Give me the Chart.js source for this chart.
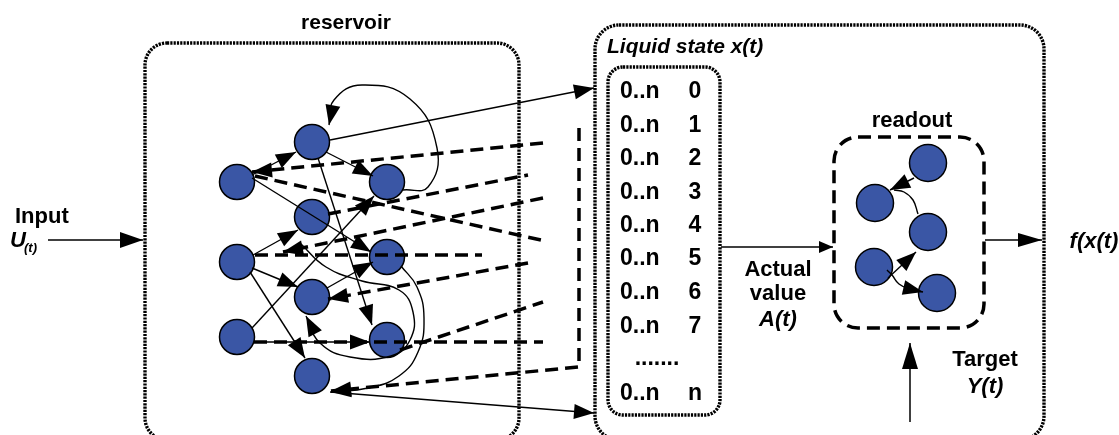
<!DOCTYPE html>
<html>
<head>
<meta charset="utf-8">
<script src="https://cdn.jsdelivr.net/npm/chart.js@4.4.1/dist/chart.umd.min.js"></script>
<style>
  html, body { margin: 0; padding: 0; background: #fff; }
  #wrap { width: 1119px; height: 435px; position: relative; }
</style>
</head>
<body>
<div id="wrap"><canvas id="lsm"></canvas></div>
<script>
// reservoir neurons A..J (figure coordinates, y grows downward)
const reservoirX = [237, 237, 237, 312, 387, 312, 387, 312, 387, 312];
const reservoirY = [182, 262, 337, 142, 182, 217, 257, 297, 340, 376];

// readout neurons R1..R5
const readoutX = [928, 875, 928, 874, 937];
const readoutY = [163, 203, 232, 267, 293];

// thin straight connections, arrow at the last point
const solidLinks = [
    [[252, 175], [296, 152]],   // A -> D
    [[252, 178], [371, 252]],   // A -> G
    [[253, 255], [298, 230]],   // B -> F
    [[252, 268], [298, 287]],   // B -> H
    [[250, 272], [305, 358]],   // B -> J
    [[252, 328], [374, 196]],   // C -> E
    [[254, 342], [370, 342]],   // C -> I
    [[326, 152], [373, 176]],   // D -> E
    [[318, 158], [372, 325]],   // D -> I
    [[327, 288], [373, 262]],   // H -> G
    [[330, 140], [594, 88]],    // D -> liquid state
    [[330, 392], [594, 413]],   // J -> liquid state
    [[914, 178], [890, 190]],   // R1 -> R2
    [[888, 278], [916, 252]],   // R4 -> R3
];

// curved connections (waypoints), arrow flag for the last point
const curvedLinks = [
    { pts: [[403, 190], [428, 187], [437, 148], [410, 99], [362, 85], [334, 100], [329, 125]], arrow: true },                                  // E -> D
    { pts: [[401, 266], [417, 287], [424, 318], [418, 352], [399, 376], [368, 388], [331, 392]], arrow: true },                                 // G -> J
    { pts: [[300, 243], [326, 267], [362, 281], [399, 290], [413, 312], [410, 340], [391, 356], [350, 357], [320, 343], [306, 316]], arrow: true }, // I -> H / F
    { pts: [[918, 214], [913, 200], [904, 192], [894, 190]], arrow: false },                                                                     // R3 -> R2
    { pts: [[887, 270], [892, 275], [899, 284], [910, 289], [923, 292]], arrow: true },                                                          // R4 -> R5
];

// thick dashed connections towards the liquid state
const dashedLinks = [
    { pts: [[543, 143], [252, 172]], arrow: true },
    { pts: [[255, 176], [545, 241]], arrow: false },
    { pts: [[328, 214], [528, 175]], arrow: false },
    { pts: [[543, 198], [283, 252]], arrow: true },
    { pts: [[255, 255], [482, 255]], arrow: false },
    { pts: [[528, 263], [328, 299]], arrow: true },
    { pts: [[400, 350], [543, 302]], arrow: false },
    { pts: [[254, 342], [543, 342]], arrow: false },
    { pts: [[579, 128], [579, 367]], arrow: false },
    { pts: [[578, 367], [331, 391]], arrow: true },
];

// outer arrows: input, liquid state -> readout, readout -> output, target
const ioLinks = [
    { pts: [[48, 240], [143, 240]], len: 23, half: 8 },
    { pts: [[721, 247], [833, 247]], len: 14, half: 6 },
    { pts: [[985, 240], [1042, 240]], len: 24, half: 7 },
    { pts: [[910, 422], [910, 343]], len: 26, half: 8 },
];

// liquid state listing
const stateNames = ['0..n', '0..n', '0..n', '0..n', '0..n', '0..n', '0..n', '0..n', '', '0..n'];
const stateIndex = ['0', '1', '2', '3', '4', '5', '6', '7', '', 'n'];
const stateBaseline = [98, 132, 165, 199, 232, 265, 299, 333, 365, 400];

const FONT = "'Liberation Sans', Arial, sans-serif";
const NODE_BLUE = '#3a56a5';
const HEAD = { len: 20, half: 7.5 };

const toXY = p => ({ x: p[0], y: p[1] });

const datasets = [];

datasets.push({
    type: 'scatter',
    label: 'reservoir',
    data: reservoirX.map((x, i) => ({ x, y: reservoirY[i] })),
    pointRadius: 17.5,
    backgroundColor: NODE_BLUE,
    borderColor: '#000',
    borderWidth: 1.5,
    order: 10,
});
datasets.push({
    type: 'scatter',
    label: 'readout',
    data: readoutX.map((x, i) => ({ x, y: readoutY[i] })),
    pointRadius: 18.5,
    backgroundColor: NODE_BLUE,
    borderColor: '#000',
    borderWidth: 1.5,
    order: 10,
});

solidLinks.forEach(l => datasets.push({
    type: 'line', data: l.map(toXY), borderColor: '#000', borderWidth: 1.4,
    pointRadius: 0, fill: false, arrow: HEAD, order: 2,
}));
curvedLinks.forEach(l => datasets.push({
    type: 'line', data: l.pts.map(toXY), borderColor: '#000', borderWidth: 1.4,
    pointRadius: 0, fill: false, tension: 0.45,
    arrow: l.arrow ? HEAD : null, order: 2,
}));
dashedLinks.forEach(l => datasets.push({
    type: 'line', data: l.pts.map(toXY), borderColor: '#000', borderWidth: 3.5,
    borderDash: [13, 7], borderCapStyle: 'butt',
    pointRadius: 0, fill: false, arrow: l.arrow ? HEAD : null, order: 1,
}));
ioLinks.forEach(l => datasets.push({
    type: 'line', data: l.pts.map(toXY), borderColor: '#000', borderWidth: 1.5,
    pointRadius: 0, fill: false, arrow: { len: l.len, half: l.half }, order: 2,
}));

function roundBox(ctx, x0, y0, x1, y1, r) {
    ctx.beginPath();
    ctx.moveTo(x0 + r, y0);
    ctx.lineTo(x1 - r, y0);
    ctx.arcTo(x1, y0, x1, y0 + r, r);
    ctx.lineTo(x1, y1 - r);
    ctx.arcTo(x1, y1, x1 - r, y1, r);
    ctx.lineTo(x0 + r, y1);
    ctx.arcTo(x0, y1, x0, y1 - r, r);
    ctx.lineTo(x0, y0 + r);
    ctx.arcTo(x0, y0, x0 + r, y0, r);
    ctx.closePath();
    ctx.stroke();
}

const diagramPlugin = {
    id: 'diagram',
    beforeDatasetsDraw(chart) {
        const { ctx, scales: { x, y } } = chart;
        const px = v => x.getPixelForValue(v);
        const py = v => y.getPixelForValue(v);
        ctx.save();
        ctx.strokeStyle = '#000';
        // dotted frames
        ctx.lineWidth = 3.4;
        ctx.setLineDash([2.2, 1.1]);
        roundBox(ctx, px(145), py(43), px(519), py(440), 22);
        roundBox(ctx, px(595), py(25), px(1044), py(440), 24);
        roundBox(ctx, px(608), py(67), px(720), py(415), 15);
        // dashed readout frame
        ctx.lineWidth = 3.5;
        ctx.setLineDash([13, 7]);
        roundBox(ctx, px(834), py(137), px(984), py(328), 24);
        ctx.restore();
    },
    afterDatasetsDraw(chart) {
        const { ctx, scales: { x, y } } = chart;
        const px = v => x.getPixelForValue(v);
        const py = v => y.getPixelForValue(v);
        ctx.save();
        ctx.fillStyle = '#000';
        // arrowheads at the end of the flagged links
        chart.data.datasets.forEach((ds, i) => {
            if (!ds.arrow) return;
            const pts = chart.getDatasetMeta(i).data;
            const p2 = pts[pts.length - 1], p1 = pts[pts.length - 2];
            const a = Math.atan2(p2.y - p1.y, p2.x - p1.x);
            const { len, half } = ds.arrow;
            const bx = p2.x - len * Math.cos(a), by = p2.y - len * Math.sin(a);
            ctx.beginPath();
            ctx.moveTo(p2.x, p2.y);
            ctx.lineTo(bx - half * Math.sin(a), by + half * Math.cos(a));
            ctx.lineTo(bx + half * Math.sin(a), by - half * Math.cos(a));
            ctx.closePath();
            ctx.fill();
        });

        // labels
        const text = (s, tx, ty, size, opts = {}) => {
            ctx.font = `${opts.italic ? 'italic ' : ''}bold ${size}px ${FONT}`;
            ctx.textAlign = opts.align || 'center';
            ctx.textBaseline = 'alphabetic';
            ctx.fillText(s, px(tx), py(ty));
        };
        text('reservoir', 346, 29, 21);
        text('Liquid state x(t)', 607, 53, 21, { italic: true, align: 'left' });
        stateNames.forEach((s, i) => {
            if (s) text(s, 620, stateBaseline[i], 23, { align: 'left' });
            if (stateIndex[i]) text(stateIndex[i], 695, stateBaseline[i], 23);
        });
        text('.......', 657, 365, 23);
        text('readout', 912, 127, 22);
        text('Input', 15, 223, 22, { align: 'left' });
        text('U', 10, 247, 22, { italic: true, align: 'left' });
        text('(t)', 24, 252, 13, { italic: true, align: 'left' });
        text('Actual', 778, 276, 22);
        text('value', 778, 300, 22);
        text('A(t)', 778, 326, 22, { italic: true });
        text('Target', 985, 366, 22);
        text('Y(t)', 985, 393, 22, { italic: true });
        text('f(x(t)', 1094, 248, 22, { italic: true });
        ctx.restore();
    },
};

new Chart(document.getElementById('lsm'), {
    data: { datasets },
    options: {
        responsive: true,
        maintainAspectRatio: false,
        animation: false,
        events: [],
        layout: { padding: 0, autoPadding: false },
        plugins: { legend: { display: false }, tooltip: { enabled: false } },
        scales: {
            x: { type: 'linear', min: 0, max: 1119, display: false },
            y: { type: 'linear', min: 0, max: 435, reverse: true, display: false },
        },
    },
    plugins: [diagramPlugin],
});
</script>
</body>
</html>
